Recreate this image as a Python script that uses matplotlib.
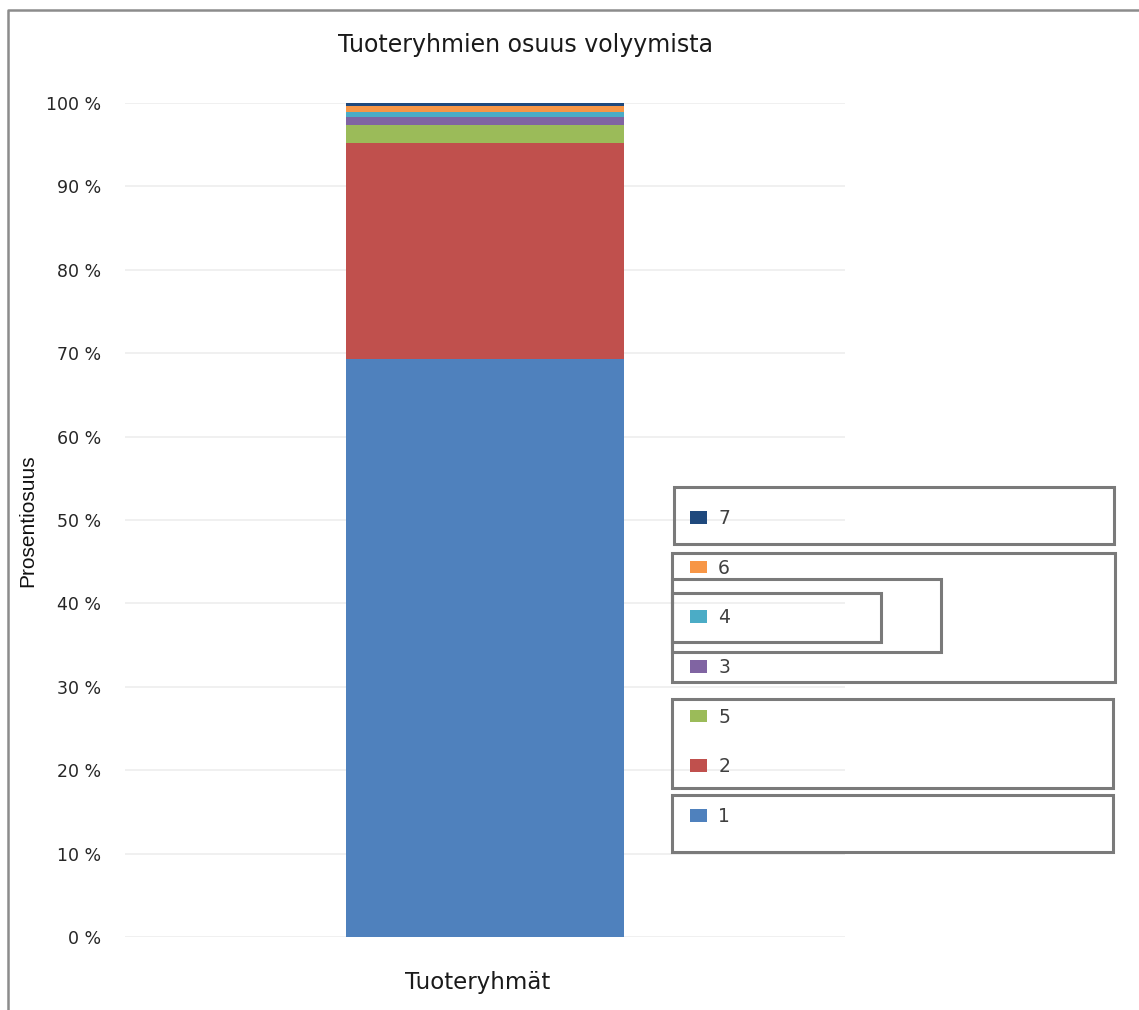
import numpy as np
import matplotlib
matplotlib.use("Agg")
import matplotlib.pyplot as plt
from matplotlib.patches import Rectangle, Patch
from matplotlib.lines import Line2D

# product groups, stacked bottom -> top (percent of volume)
groups = ["1", "2", "5", "3", "4", "6", "7"]
shares = [69.3, 25.9, 2.2, 0.9, 0.65, 0.75, 0.3]
colors = ["#4F81BD", "#C0504D", "#9BBB59", "#8064A2", "#4BACC6", "#F79646", "#1F497D"]
category = ["Tuoteryhmät"]
yticks = list(range(0, 101, 10))

W, H = 1139, 1010
fig = plt.figure(figsize=(W / 100, H / 100), dpi=100)
plt.rcParams["font.family"] = "DejaVu Sans"


def fx(px):
    return px / W


def fy(py):
    return 1 - py / H


ax = fig.add_axes([fx(125), fy(937), fx(845) - fx(125), fy(103) - fy(937)])

bottom = 0.0
for g, v, c in zip(groups, shares, colors):
    ax.bar(0, v, width=0.385, bottom=bottom, color=c, zorder=2, label=g)
    bottom += v

ax.set_xlim(-0.5, 0.5)
ax.set_ylim(0, 100)
ax.set_yticks(yticks)
ax.set_yticklabels([f"{t} %" for t in yticks], fontsize=12.5, color="#262626")
ax.set_xticks([])
ax.tick_params(axis="y", length=0, pad=17)
ax.grid(axis="y", color="#ececec", lw=1.1, zorder=0)
for s in ax.spines.values():
    s.set_visible(False)

fig.text(fx(526), fy(45), "Tuoteryhmien osuus volyymista", ha="center", va="center",
         fontsize=17, color="#1a1a1a")
fig.text(fx(478), fy(982), category[0], ha="center", va="center", fontsize=16.5, color="#1a1a1a")
fig.text(fx(28), fy(521), "Prosentiosuus", rotation=90, ha="center", va="center",
         fontsize=15, family="Liberation Sans", color="#111111")

# outer frame (left + top only visible)
fig.add_artist(Line2D([fx(8), fx(8), 1], [0, fy(10), fy(10)], color="#8c8c8c", lw=1.8,
                      transform=fig.transFigure))

# odd overlapping legend boxes
boxes = [(674, 487, 1114, 544), (672, 553, 1115, 682), (672, 579, 941, 652),
         (672, 593, 881, 642), (672, 699, 1113, 788), (672, 795, 1113, 852)]
for x0, y0, x1, y1 in boxes:
    fig.add_artist(Rectangle((fx(x0), fy(y1)), fx(x1) - fx(x0), fy(y0) - fy(y1),
                             transform=fig.transFigure, fill=False,
                             edgecolor="#7a7a7a", lw=2.2))

handles = [Patch(facecolor=c, edgecolor="none") for c in colors][::-1]
labels = groups[::-1]
fig.legend(handles, labels, loc="upper left", bbox_to_anchor=(fx(690), fy(509)),
           bbox_transform=fig.transFigure, frameon=False, fontsize=13.5,
           handlelength=0.9, handleheight=0.65, handletextpad=0.6,
           labelspacing=1.635, borderpad=0, borderaxespad=0, labelcolor="#404040")

fig.savefig("out.png", dpi=100)
